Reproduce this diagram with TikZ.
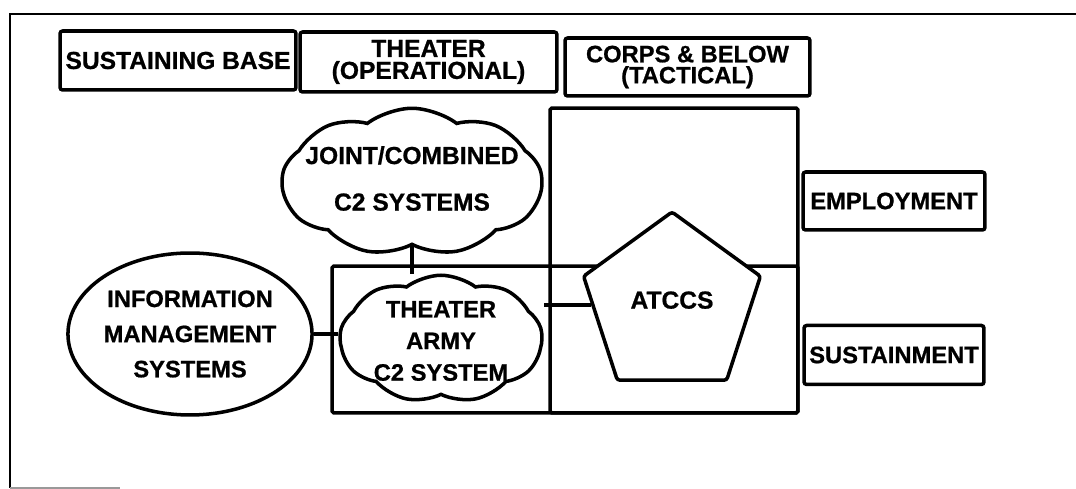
\documentclass[tikz,border=0pt]{standalone}
\usepackage{fontspec}
\setmainfont{Liberation Sans}[BoldFeatures={FakeBold=0.8}]
\usepackage{tikz}
\usetikzlibrary{positioning,shapes.geometric,shapes.symbols}

\begin{document}
\begin{tikzpicture}[
    x=0.02cm, y=-0.02cm,
    font=\bfseries\fontsize{13.5}{15}\selectfont,
    box/.style={draw, line width=2pt, rounded corners=1.5pt, align=center, inner sep=0pt},
    region/.style={draw, line width=2pt, rounded corners=1pt, inner sep=0pt, minimum width=#1},
    puff/.style={draw, cloud, cloud puffs=9, cloud puff arc=75, cloud ignores aspect, fill=white, line width=2pt, inner sep=0pt},
    link/.style={line width=2.2pt},
]
\useasboundingbox (0,0) rectangle (1076,489);

% frame of the page
\draw[line width=1.2pt] (1076,14) -- (10,14) -- (10,488);
\draw[line width=1pt, black!40] (10,488) -- (120,488);

% echelon headers
\node[box, minimum width=4.72cm, minimum height=1.18cm, font=\bfseries\fontsize{14}{15}\selectfont] (sbase) at (178,60.5) {SUSTAINING BASE};
\node[box, minimum width=5.14cm, minimum height=1.2cm, font=\bfseries\fontsize{14}{12.5}\selectfont] (theater) at (428.5,62) {THEATER\\(OPERATIONAL)};
\node[box, minimum width=4.9cm, minimum height=1.16cm, font=\bfseries\fontsize{13.5}{12}\selectfont] (corps) at (687.5,67) {CORPS \& BELOW\\(TACTICAL)};

% areas
\node[region=4.96cm, minimum height=6.1cm] (tactical) at (674,260.5) {};
\node[region=9.32cm, minimum height=2.94cm] (thbox) at (565,339.5) {};

\node[box, minimum width=3.64cm, minimum height=1.16cm] (employ) at (894,201) {EMPLOYMENT};
\node[box, minimum width=3.6cm, minimum height=1.18cm, below=1.84cm of employ] (sustain) {SUSTAINMENT};

% systems
\node[puff, minimum width=5.2cm, minimum height=2.95cm,
      label={[align=center, yshift=0.07cm, font=\bfseries\fontsize{14}{26.5}\selectfont]center:{JOINT/COMBINED\\C2 SYSTEMS}}] (joint) at (412,182) {};
\node[puff, minimum width=4.05cm, minimum height=2.55cm,
      label={[align=center, yshift=-0.04cm, font=\bfseries\fontsize{13.5}{18}\selectfont]center:{THEATER\\ARMY\\C2 SYSTEM}}] (thcloud) at (441,339) {};
\node[draw, ellipse, line width=2pt, minimum width=4.72cm, minimum height=3.24cm, inner sep=0pt, align=center, font=\bfseries\fontsize{13.5}{20}\selectfont] (info) at (190,334) {INFORMATION\\MANAGEMENT\\SYSTEMS};
\node[draw, regular polygon, regular polygon sides=5, minimum size=3.72cm, inner sep=0pt, fill=white, line width=2pt, rounded corners=1.5pt, font=\bfseries\fontsize{14}{15}\selectfont] (atccs) at (672,305) {\raisebox{0.2cm}{ATCCS}};

\draw[link] (joint.south) -- (joint.south |- thcloud.north);
\draw[link] (info.east) -- (info.east -| thcloud.west);
\draw[link] (atccs.west) -- (atccs.west -| thcloud.east);
\end{tikzpicture}
\end{document}
